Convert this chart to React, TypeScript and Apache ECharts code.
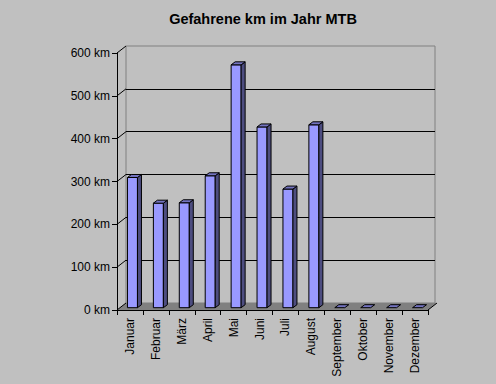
import React, { useEffect, useRef } from "react";
import * as echarts from "echarts";

const months = ["Januar", "Februar", "März", "April", "Mai", "Juni", "Juli", "August", "September", "Oktober", "November", "Dezember"];
const kmValues = [304, 244, 245, 308, 567, 422, 277, 427, 0, 0, 0, 0];
const yTicks = [0, 100, 200, 300, 400, 500, 600];
const titleText = "Gefahrene km im Jahr MTB";

const FONT = "'Liberation Sans', Arial, sans-serif";
const DX = 9;
const DY = -7;

export default function App() {
  const ref = useRef<HTMLDivElement>(null);
  useEffect(() => {
    const chart = echarts.init(ref.current!, null, { renderer: "svg" });
    const option: any = {
      animation: false,
      backgroundColor: "#C0C0C0",
      textStyle: { fontFamily: FONT },
      title: {
        text: titleText,
        left: 258,
        top: 6,
        textAlign: "center",
        textStyle: { fontFamily: FONT, fontSize: 14.5, fontWeight: "bold", color: "#000" },
      },
      grid: [
        { left: 117, top: 53, width: 311, height: 257, containLabel: false },
        {
          left: 117 + DX, top: 53 + DY, width: 309, height: 257, containLabel: false,
          show: true, borderColor: "#808080", borderWidth: 1, backgroundColor: "transparent",
        },
      ],
      xAxis: [
        {
          type: "category", gridIndex: 0, data: months,
          axisLine: { show: true, lineStyle: { color: "#000", width: 1 } },
          axisTick: { show: true, length: 5, lineStyle: { color: "#000" } },
          axisLabel: { rotate: 90, fontSize: 12, color: "#000", fontFamily: FONT, margin: 8, interval: 0 },
          z: 6,
        },
        { type: "category", gridIndex: 1, data: months, show: false },
      ],
      yAxis: [
        {
          type: "value", gridIndex: 0, min: 0, max: 600, interval: 100,
          axisLine: { show: true, lineStyle: { color: "#000", width: 1 } },
          axisTick: { show: true, length: 5, lineStyle: { color: "#000" } },
          axisLabel: { formatter: "{value} km", fontSize: 12, color: "#000", fontFamily: FONT, margin: 7 },
          splitLine: { show: false },
          z: 6,
        },
        {
          type: "value", gridIndex: 1, min: 0, max: 600, interval: 100,
          axisLine: { show: false }, axisTick: { show: false }, axisLabel: { show: false },
          splitLine: { show: true, showMinLine: false, showMaxLine: false, lineStyle: { color: "#000", width: 1 } },
        },
      ],
      series: [
        {
          type: "custom", name: "floor", xAxisIndex: 0, yAxisIndex: 0, z: 1, clip: false,
          data: [[0, 0]],
          renderItem: (params: any, api: any) => {
            const cs = params.coordSys;
            const y = api.coord([0, 0])[1];
            const x0 = cs.x;
            const x1 = cs.x + cs.width;
            return {
              type: "group",
              children: [
                {
                  type: "polygon",
                  shape: { points: [[x0, y], [x1, y], [x1 + DX, y + DY], [x0 + DX, y + DY]] },
                  style: { fill: "#808080", stroke: "none" },
                },
                {
                  type: "line",
                  shape: { x1: x1, y1: y, x2: x1 + DX, y2: y + DY },
                  style: { stroke: "#000", lineWidth: 1 },
                },
              ],
            };
          },
        },
        {
          type: "custom", name: "tickDiag", xAxisIndex: 0, yAxisIndex: 0, z: 3, clip: false,
          data: yTicks.map((t) => [0, t]),
          renderItem: (params: any, api: any) => {
            const cs = params.coordSys;
            const y = api.coord([0, api.value(1)])[1];
            return {
              type: "line",
              shape: { x1: cs.x, y1: y, x2: cs.x + DX, y2: y + DY },
              style: { stroke: "#000", lineWidth: 1 },
            };
          },
        },
        {
          type: "custom", name: "km", xAxisIndex: 0, yAxisIndex: 0, z: 5, clip: false,
          data: kmValues.map((v, i) => [i, v]),
          renderItem: (params: any, api: any) => {
            const i = api.value(0);
            const v = api.value(1);
            const base = api.coord([i, 0]);
            const top = api.coord([i, v]);
            const offX = 2.5, offY = -2.3, bw = 10, sx = 4, sy = -3;
            const xl = base[0] - bw / 2 + offX;
            const xr = xl + bw;
            const yb = base[1] + offY;
            const yt = top[1] + offY;
            const stroke = { stroke: "#000", lineWidth: 1 };
            const children: any[] = [];
            if (v > 0) {
              children.push({
                type: "rect", shape: { x: xl, y: yt, width: bw, height: yb - yt },
                style: { fill: "#9999FF", ...stroke },
              });
              children.push({
                type: "polygon",
                shape: { points: [[xr, yt], [xr + sx, yt + sy], [xr + sx, yb + sy], [xr, yb]] },
                style: { fill: "#4D4D80", ...stroke },
              });
            }
            children.push({
              type: "polygon",
              shape: { points: [[xl, yt], [xr, yt], [xr + sx, yt + sy], [xl + sx, yt + sy]] },
              style: { fill: "#7373BF", ...stroke },
            });
            return { type: "group", children };
          },
        },
      ],
    };
    chart.setOption(option);
    return () => chart.dispose();
  }, []);
  return <div ref={ref} style={{ position: "absolute", left: 0, top: 0, width: 496, height: 384 }} />;
}
